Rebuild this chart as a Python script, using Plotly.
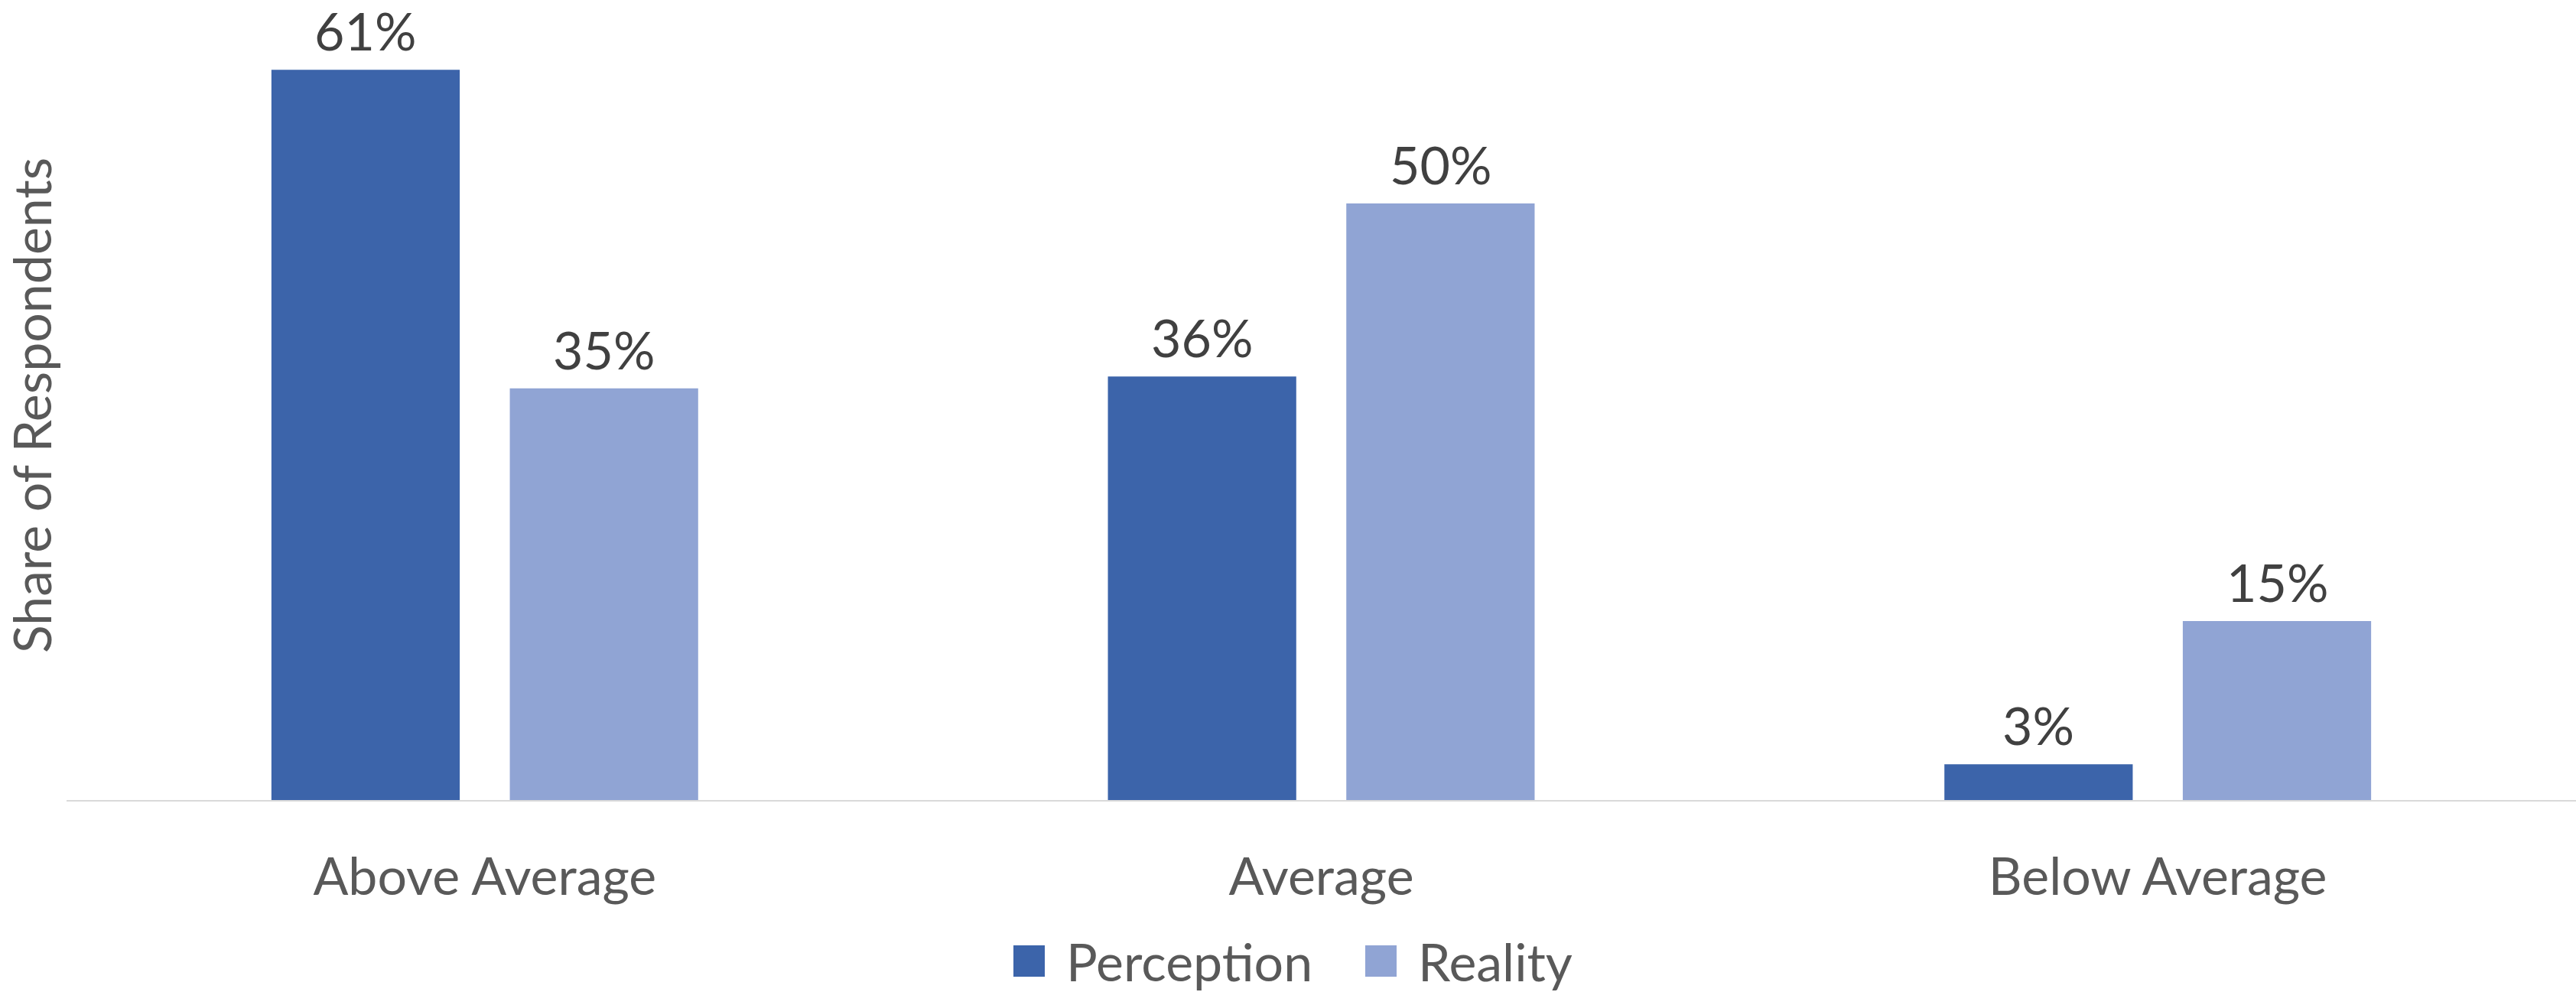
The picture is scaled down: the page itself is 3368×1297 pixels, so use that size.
import plotly.graph_objects as go

categories = ["Above Average", "Average", "Below Average"]
perception = [0.612, 0.355, 0.03]
reality = [0.345, 0.50, 0.15]
perception_labels = ["61%", "36%", "3%"]
reality_labels = ["35%", "50%", "15%"]
series_names = ["Perception", "Reality"]
colors = ["#3C64AA", "#90A4D4"]

W, H = 3368, 1297
L, R, T, B = 87, 0, 14, 251
FONT = "Lato"
FS = 68
BARGAP, GROUPGAP = 0.43, 0.21

def px_x(px):
    return (px - L) / (W - L - R)

def px_y(py):
    return (H - B - py) / (H - T - B)

fig = go.Figure()
for name, vals, col in zip(series_names, [perception, reality], colors):
    fig.add_trace(go.Bar(
        name=name, x=categories, y=vals, marker=dict(color=col, line=dict(width=0)),
        showlegend=False, cliponaxis=False,
    ))

# value labels above each bar (offset to each bar's slot in the group)
cat_px = (W - L - R) / len(categories)
slot_px = cat_px * (1 - BARGAP) / 2
for i, (vals, labels) in enumerate([(perception, perception_labels), (reality, reality_labels)]):
    shift = (i - 0.5) * slot_px
    for c, v, t in zip(categories, vals, labels):
        fig.add_annotation(x=c, y=v, text=t, showarrow=False,
                           xshift=shift, yshift=9, yanchor="bottom",
                           font=dict(family=FONT, size=FS, color="#404040"))

# manual legend with large square keys
legend_items = [(1325, 1392, "Perception", colors[0]), (1785, 1852, "Reality", colors[1])]
for sq_x, tx_x, label, col in legend_items:
    fig.add_shape(type="rect", xref="paper", yref="paper",
                  x0=px_x(sq_x), x1=px_x(sq_x + 41), y0=px_y(1236), y1=px_y(1277),
                  fillcolor=col, line=dict(width=0))
    fig.add_annotation(xref="paper", yref="paper", x=px_x(tx_x), y=px_y(1256),
                       text=label, showarrow=False, xanchor="left", yanchor="middle",
                       font=dict(family=FONT, size=FS, color="#595959"))

fig.update_layout(
    width=W, height=H,
    margin=dict(l=L, r=R, t=T, b=B, autoexpand=False),
    paper_bgcolor="white", plot_bgcolor="white",
    barmode="group", bargap=BARGAP, bargroupgap=GROUPGAP,
    font=dict(family=FONT, size=FS, color="#595959"),
    showlegend=False,
)
fig.update_xaxes(
    showline=True, linecolor="#D9D9D9", linewidth=2,
    showgrid=False, zeroline=False, ticks="",
    tickfont=dict(family=FONT, size=FS, color="#595959"),
    ticklabelstandoff=40, automargin=False,
)
fig.update_yaxes(
    range=[0, 0.6615], showgrid=False, zeroline=False, showticklabels=False,
    showline=False, ticks="",
    title=dict(text="Share of Respondents", standoff=10,
               font=dict(family=FONT, size=FS, color="#595959")),
    automargin=False,
)

fig.write_html("out.html")
